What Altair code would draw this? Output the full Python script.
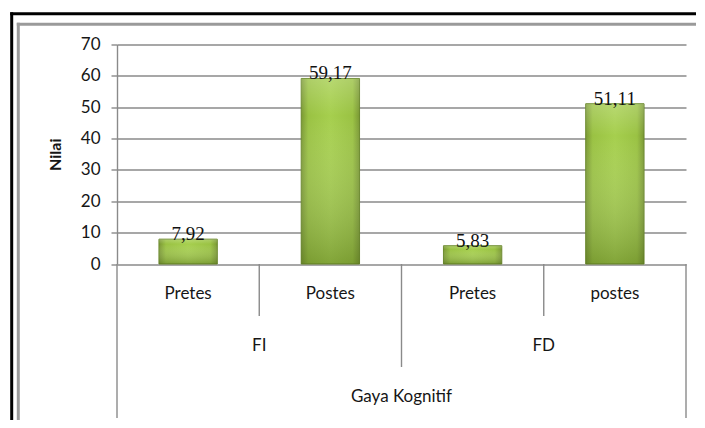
import altair as alt
import pandas as pd

# ---- data ----
level1 = ["Pretes", "Postes", "Pretes", "postes"]
level2 = ["FI", "FI", "FD", "FD"]
values = [7.92, 59.17, 5.83, 51.11]
value_labels = ["7,92", "59,17", "5,83", "51,11"]
group_names = ["FI", "FD"]
top_title = "Gaya Kognitif"
y_ticks = [0, 10, 20, 30, 40, 50, 60, 70]

keys = [f"{g}-{c}" for g, c in zip(level2, level1)]
df = pd.DataFrame({"key": keys, "cat": level1, "grp": level2,
                   "val": values, "lab": value_labels})

W, H = 569, 219.5
FONT = "Lato"
TXT = "#161616"
LINE = "#8a8a8a"
FS = 17

xscale = alt.Scale(domain=keys, paddingInner=0, paddingOuter=0)

def xk(band=0.5):
    return alt.X("key:N", scale=xscale, axis=None, bandPosition=band)

yscale = alt.Scale(domain=[0, 70], nice=False, zero=True)
yaxis = alt.Axis(values=y_ticks, tickCount=8, labelOverlap=False, title="Nilai", grid=True,
                 gridColor=LINE, gridWidth=1.4,
                 domainColor=LINE, domainWidth=1.4,
                 tickColor=LINE, tickWidth=1.4, tickSize=6,
                 labelFont=FONT, labelFontSize=FS, labelColor=TXT,
                 labelPadding=11,
                 titleFont=FONT, titleFontSize=16, titleFontWeight="bold",
                 titleColor=TXT, titlePadding=17)
y_enc = alt.Y("val:Q", scale=yscale, axis=yaxis)

grad_h = alt.Gradient(gradient="linear", x1=0, x2=1, y1=0, y2=0, stops=[
    alt.GradientStop(color="#7a9834", offset=0),
    alt.GradientStop(color="#9ac243", offset=0.12),
    alt.GradientStop(color="#a6cf4e", offset=0.5),
    alt.GradientStop(color="#9ac243", offset=0.88),
    alt.GradientStop(color="#7a9834", offset=1),
])
grad_v = alt.Gradient(gradient="linear", x1=0, x2=0, y1=0, y2=1, stops=[
    alt.GradientStop(color="rgba(255,255,255,0.2)", offset=0),
    alt.GradientStop(color="rgba(255,255,255,0)", offset=0.2),
    alt.GradientStop(color="rgba(70,95,20,0.38)", offset=1),
])

bars = alt.Chart(df).mark_bar(width=alt.RelativeBandSize(0.41), fill=grad_h,
                              stroke="#6a882b", strokeWidth=1).encode(
    x=xk(), y=y_enc)
bars_shade = alt.Chart(df).mark_bar(width=alt.RelativeBandSize(0.41), fill=grad_v).encode(
    x=xk(), y=y_enc)

val_text = alt.Chart(df).mark_text(font="Liberation Serif", fontSize=19, color="#111",
                                   baseline="alphabetic", dy=1).encode(
    x=xk(), y=y_enc, text="lab:N")

cat_text = alt.Chart(df).mark_text(font=FONT, fontSize=FS, color=TXT, baseline="middle").encode(
    x=xk(), y=alt.value(249.5), text="cat:N")

grp_df = pd.DataFrame({"key": [keys[1], keys[3]], "grp": group_names})
grp_text = alt.Chart(grp_df).mark_text(font=FONT, fontSize=FS, color=TXT, baseline="middle").encode(
    x=xk(0), y=alt.value(301.5), text="grp:N")

top_df = pd.DataFrame({"key": [keys[2]], "t": [top_title]})
top_text = alt.Chart(top_df).mark_text(font=FONT, fontSize=FS, color=TXT, baseline="middle").encode(
    x=xk(0), y=alt.value(352.5), text="t:N")

def sep(rows, band, y2):
    d = pd.DataFrame({"key": rows})
    return alt.Chart(d).mark_rule(color=LINE, strokeWidth=1.4).encode(
        x=xk(band), y=alt.value(H), y2=alt.value(y2))

sep_long0 = sep([keys[0]], 0, 373.5)
sep_long1 = sep([keys[3]], 1, 373.5)
sep_short = sep([keys[1], keys[3]], 0, 271.5)
sep_mid = sep([keys[2]], 0, 322.5)

one = pd.DataFrame({"a": [0]})
frame_black_v = alt.Chart(one).mark_rule(color="#000", strokeWidth=3).encode(
    x=alt.value(-105.3), y=alt.value(-32.2), y2=alt.value(380))
frame_black_h = alt.Chart(one).mark_rule(color="#000", strokeWidth=3).encode(
    y=alt.value(-30.7), x=alt.value(-106.8), x2=alt.value(600))
frame_grey_v = alt.Chart(one).mark_rule(color="#9a9a9a", strokeWidth=3).encode(
    x=alt.value(-98.7), y=alt.value(-21.7), y2=alt.value(380))
frame_grey_h = alt.Chart(one).mark_rule(color="#9a9a9a", strokeWidth=3).encode(
    y=alt.value(-20.2), x=alt.value(-100.2), x2=alt.value(600))

chart = alt.layer(
    bars, bars_shade, val_text, cat_text, grp_text, top_text,
    sep_long0, sep_long1, sep_short, sep_mid,
    frame_black_v, frame_black_h, frame_grey_v, frame_grey_h,
).properties(
    width=W, height=H,
    autosize=alt.AutoSizeParams(type="none"),
    padding={"left": 109, "top": 36.5, "right": 10, "bottom": 156},
    background="white",
).configure_view(strokeWidth=0)

chart.save("out.html", embed_options={"renderer": "svg", "actions": False})
